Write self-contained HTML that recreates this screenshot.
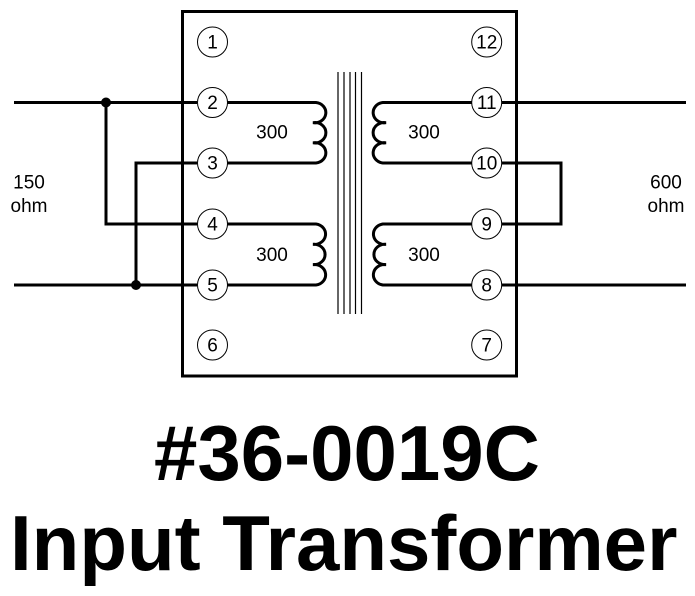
<!DOCTYPE html>
<html><head><meta charset="utf-8"><style>
html,body{margin:0;padding:0;background:#fff;}
svg{display:block;}
</style></head><body>
<svg width="695" height="596" viewBox="0 0 695 596" xmlns="http://www.w3.org/2000/svg">
<rect width="695" height="596" fill="#fff"/>
<g fill="none" stroke="#000" stroke-width="3">
  <!-- box -->
  <rect x="182.5" y="11.5" width="334" height="364.5"/>
  <!-- left wiring -->
  <line x1="14" y1="102.5" x2="197" y2="102.5"/>
  <line x1="14" y1="285" x2="197" y2="285"/>
  <polyline points="106,102.5 106,224 197,224"/>
  <polyline points="197,163 136,163 136,285"/>
  <!-- right wiring -->
  <line x1="502" y1="102.5" x2="686" y2="102.5"/>
  <line x1="502" y1="285" x2="686" y2="285"/>
  <polyline points="502,163 561,163 561,224 502,224"/>
  <!-- left coils -->
  <path d="M227 102.5 H316 A11 10.2 0 1 1 313 122.7 A11 10.2 0 1 1 313 142.8 A11 10.2 0 1 1 316 163 H227"/>
  <path d="M227 224 H316 A11 10.2 0 1 1 313 244.3 A11 10.2 0 1 1 313 264.6 A11 10.2 0 1 1 316 285 H227"/>
  <!-- right coils -->
  <path d="M472 102.5 H383 A11 10.2 0 1 0 386 122.7 A11 10.2 0 1 0 386 142.8 A11 10.2 0 1 0 383 163 H472"/>
  <path d="M472 224 H383 A11 10.2 0 1 0 386 244.3 A11 10.2 0 1 0 386 264.6 A11 10.2 0 1 0 383 285 H472"/>
</g>
<!-- core -->
<g stroke="#000" stroke-width="1.2">
  <line x1="338" y1="72" x2="338" y2="314"/>
  <line x1="344" y1="72" x2="344" y2="314"/>
  <line x1="350" y1="72" x2="350" y2="314"/>
  <line x1="355.5" y1="72" x2="355.5" y2="314"/>
  <line x1="361.5" y1="72" x2="361.5" y2="314"/>
</g>
<!-- junction dots -->
<circle cx="106" cy="102.5" r="5" fill="#000"/>
<circle cx="136" cy="285" r="5" fill="#000"/>
<!-- pin circles -->
<g fill="#fff" stroke="#000" stroke-width="1">
  <circle cx="212.5" cy="42" r="15"/>
  <circle cx="212.5" cy="102.5" r="15"/>
  <circle cx="212.5" cy="163" r="15"/>
  <circle cx="212.5" cy="224" r="15"/>
  <circle cx="212.5" cy="285" r="15"/>
  <circle cx="212.5" cy="345" r="15"/>
  <circle cx="486.7" cy="42" r="15"/>
  <circle cx="486.7" cy="102.5" r="15"/>
  <circle cx="486.7" cy="163" r="15"/>
  <circle cx="486.7" cy="224" r="15"/>
  <circle cx="486.7" cy="285" r="15"/>
  <circle cx="486.7" cy="345" r="15"/>
</g>
<g font-family="Liberation Sans, Arial, sans-serif" font-size="19" fill="#000" text-anchor="middle">
  <text x="212.5" y="48.5">1</text>
  <text x="212.5" y="109">2</text>
  <text x="212.5" y="169.5">3</text>
  <text x="212.5" y="230.5">4</text>
  <text x="212.5" y="291.5">5</text>
  <text x="212.5" y="351.5">6</text>
  <text x="486.7" y="48.5">12</text>
  <text x="486.7" y="109">11</text>
  <text x="486.7" y="169.5">10</text>
  <text x="486.7" y="230.5">9</text>
  <text x="486.7" y="291.5">8</text>
  <text x="486.7" y="351.5">7</text>
</g>
<g font-family="Liberation Sans, Arial, sans-serif" font-size="19" fill="#000" text-anchor="middle">
  <text x="272" y="138.5">300</text>
  <text x="424" y="138.5">300</text>
  <text x="272" y="261">300</text>
  <text x="424" y="261">300</text>
  <text x="29" y="188.5">150</text>
  <text x="29" y="212">ohm</text>
  <text x="666" y="188.5">600</text>
  <text x="666" y="212">ohm</text>
</g>
<g font-family="Liberation Sans, Arial, sans-serif" font-size="78" font-weight="bold" fill="#000">
  <text x="154" y="480">#36-0019C</text>
  <text x="10" y="570">Input Transformer</text>
</g>
</svg>
</body></html>
